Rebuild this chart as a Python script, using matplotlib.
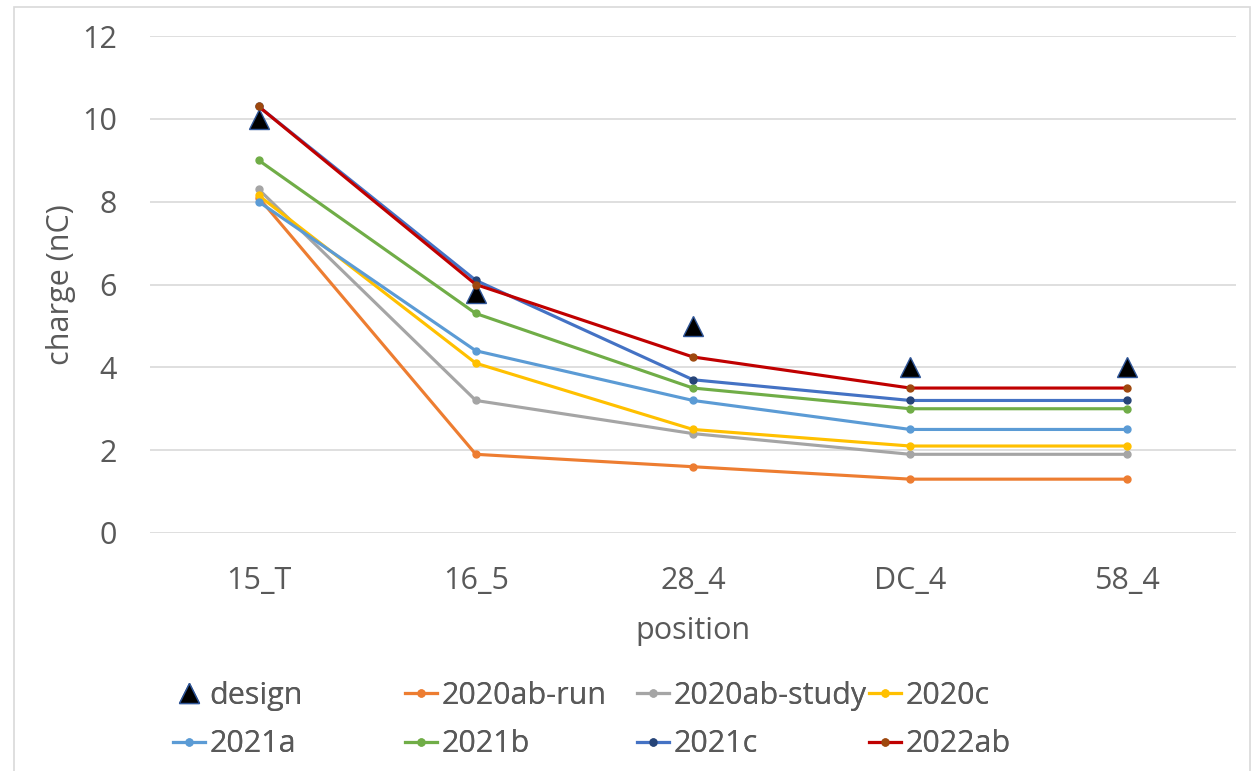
import matplotlib
matplotlib.use("Agg")
import matplotlib.pyplot as plt
from matplotlib.patches import Rectangle

plt.rcParams['font.family'] = ['Open Sans', 'DejaVu Sans']

positions = ["15_T", "16_5", "28_4", "DC_4", "58_4"]

design = [10.0, 5.8, 5.0, 4.0, 4.0]
run_2020ab = [8.1, 1.9, 1.6, 1.3, 1.3]
study_2020ab = [8.3, 3.2, 2.4, 1.9, 1.9]
c_2020 = [8.15, 4.1, 2.5, 2.1, 2.1]
a_2021 = [8.0, 4.4, 3.2, 2.5, 2.5]
b_2021 = [9.0, 5.3, 3.5, 3.0, 3.0]
c_2021 = [10.3, 6.1, 3.7, 3.2, 3.2]
ab_2022 = [10.3, 6.0, 4.25, 3.5, 3.5]

# (label, values, line colour, marker colour)
series = [
    ("2020ab-run", run_2020ab, "#ED7D31", "#ED7D31"),
    ("2020ab-study", study_2020ab, "#A5A5A5", "#A5A5A5"),
    ("2020c", c_2020, "#FFC000", "#FFC000"),
    ("2021a", a_2021, "#5B9BD5", "#5B9BD5"),
    ("2021b", b_2021, "#70AD47", "#70AD47"),
    ("2021c", c_2021, "#4472C4", "#264478"),
    ("2022ab", ab_2022, "#C00000", "#9E480E"),
]

text_col = "#595959"
fs = 22

fig = plt.figure(figsize=(12.52, 7.71), dpi=100)
ax = fig.add_axes([150 / 1252, 1 - 533 / 771, (1236 - 150) / 1252, (533 - 36) / 771])

x = list(range(len(positions)))

h_design, = ax.plot(x, design, linestyle="none", marker="^", markersize=14,
                    markerfacecolor="black", markeredgecolor="#2F5597",
                    markeredgewidth=1, label="design", zorder=2)
handles = {"design": h_design}
for name, vals, lc, mc in series:
    h, = ax.plot(x, vals, color=lc, linewidth=2.25, marker="o", markersize=5,
                 markerfacecolor=mc, markeredgecolor=mc, label=name, zorder=3)
    handles[name] = h

ax.set_xlim(-0.5, len(positions) - 0.5)
ax.set_ylim(0, 12)
ax.set_yticks(range(0, 13, 2))
ax.set_xticks(x)
ax.set_xticklabels(positions)
ax.grid(axis="y", color="#D9D9D9", linewidth=1.2)
ax.set_axisbelow(True)
for s in ax.spines.values():
    s.set_visible(False)
ax.tick_params(axis="both", length=0, labelsize=fs, labelcolor=text_col)
ax.tick_params(axis="y", pad=24)
ax.tick_params(axis="x", pad=24)

ax.set_xlabel("position", fontsize=fs, color=text_col, labelpad=14)
ax.set_ylabel("charge (nC)", fontsize=fs, color=text_col, labelpad=4)

# legend laid out as four equal-width columns
columns = [["design", "2021a"], ["2020ab-run", "2021b"],
           ["2020ab-study", "2021c"], ["2020c", "2022ab"]]
col_x = [173, 405, 637, 869]
for names, cx in zip(columns, col_x):
    leg = fig.legend([handles[n] for n in names], names, loc="center left",
                     bbox_to_anchor=(cx / 1252, 1 - 720 / 771),
                     frameon=False, fontsize=fs, labelcolor=text_col,
                     handlelength=1.05, handletextpad=0.15, borderpad=0,
                     borderaxespad=0, labelspacing=0.62, numpoints=1)
    fig.add_artist(leg)

# chart area border
fig.add_artist(Rectangle((14 / 1252, -0.05), (1250 - 14) / 1252, (771 - 7) / 771 + 0.05,
                         transform=fig.transFigure, fill=False,
                         edgecolor="#D9D9D9", linewidth=1.2))

fig.savefig("out.png", dpi=100, facecolor="white")
